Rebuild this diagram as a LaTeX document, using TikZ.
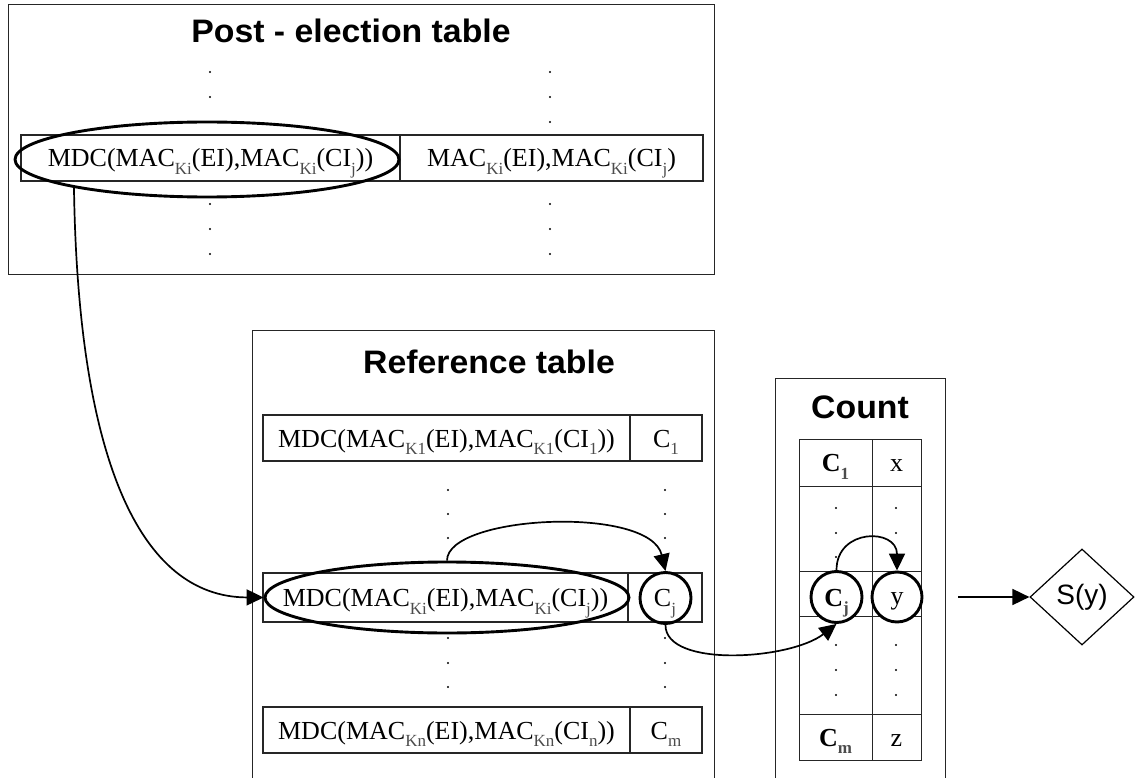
\documentclass[tikz,border=0pt]{standalone}
\usepackage{fontspec}
\setmainfont{Liberation Serif}
\setsansfont{Liberation Sans}
\newfontfamily\titlefont[FakeStretch=1.04]{Liberation Sans}
\usetikzlibrary{shapes.geometric,arrows.meta}
\newcommand\sbs[1]{\raisebox{-0.3em}{\fontsize{17}{17}\selectfont\color{black!70}#1}}
\tikzset{
  frame/.style={draw=black!85,line width=1pt,inner sep=0pt},
  cell/.style={draw=black!85,line width=1.1pt,inner sep=0pt,font=\fontsize{26}{30}\selectfont,
               text height=18pt,text depth=0pt},
  hl/.style={draw=black,line width=2.9pt,inner sep=0pt},
  ttl/.style={font=\titlefont\fontsize{32.5}{38}\selectfont\bfseries,anchor=base},
  arr/.style={line width=1.7pt,-{Triangle[length=17pt,width=16pt]}},
  dot/.style={fill=black}
}
\begin{document}
\begin{tikzpicture}[x=1pt,y=-1pt]
\useasboundingbox (0,0) rectangle (1135,778);
\fill[white] (0,0) rectangle (1135,778);

% ---------- Post-election table ----------
\node[frame,minimum width=706,minimum height=269] (post) at (361,139.5) {};
\node[ttl] (posttitle) at (351,43) {Post - election table};
\node[cell,minimum width=379,minimum height=46] (pl) at (210.5,158)
  {MDC(MAC\sbs{Ki}(EI),MAC\sbs{Ki}(CI\sbs{j}))};
\node[cell,minimum width=303,minimum height=46] (pr) at (551.5,158)
  {MAC\sbs{Ki}(EI),MAC\sbs{Ki}(CI\sbs{j})};
\node[hl,ellipse,minimum width=384,minimum height=75] (pe) at (207,159.5) {};
\foreach \y in {72,97,204,229,254} \fill[dot] (210,\y) circle (1.1);
\foreach \y in {72,97,122,204,229,254} \fill[dot] (550,\y) circle (1.1);

% ---------- Reference table ----------
\node[frame,minimum width=462,minimum height=470] (ref) at (483,565) {};
\node[ttl] (reftitle) at (489,373) {Reference table};
\node[cell,minimum width=367,minimum height=46] (r1l) at (446.5,438)
  {MDC(MAC\sbs{K1}(EI),MAC\sbs{K1}(CI\sbs{1}))};
\node[cell,minimum width=72,minimum height=46] (r1r) at (666,438) {C\sbs{1}};
\node[cell,minimum width=74,minimum height=49] (rjr) at (665,597.5) {C\sbs{j}};
\node[cell,line width=1.6pt,minimum width=365,minimum height=49] (rjl) at (445.5,597.5)
  {MDC(MAC\sbs{Ki}(EI),MAC\sbs{Ki}(CI\sbs{j}))};
\node[cell,minimum width=367,minimum height=46] (rnl) at (446.5,730)
  {MDC(MAC\sbs{Kn}(EI),MAC\sbs{Kn}(CI\sbs{n}))};
\node[cell,minimum width=72,minimum height=46] (rnr) at (666,730) {C\sbs{m}};
\node[hl,ellipse,minimum width=364,minimum height=71] (re) at (447,597.5) {};
\node[hl,circle,minimum size=51] (rc) at (665.5,598) {};
\foreach \y in {490,514,538,638,663,687} {
  \fill[dot] (448,\y) circle (1.1);
  \fill[dot] (665,\y) circle (1.1);
}

% ---------- Count ----------
\node[frame,minimum width=170,minimum height=422] (cnt) at (860,589) {};
\node[ttl] (cnttitle) at (860,418) {Count};
\node[cell,line width=1pt,minimum width=73,minimum height=47] (c1l) at (835.5,462.5) {\bfseries C\sbs{1}};
\node[cell,line width=1pt,minimum width=49,minimum height=47] (c1r) at (896.5,462.5) {x};
\node[cell,line width=1pt,minimum width=73,minimum height=85] (cd1l) at (835.5,528.5) {};
\node[cell,line width=1pt,minimum width=49,minimum height=85] (cd1r) at (896.5,528.5) {};
\node[cell,line width=1pt,minimum width=73,minimum height=45] (cjl) at (835.5,593.5) {};
\node[cell,line width=1pt,minimum width=49,minimum height=45] (cjr) at (896.5,593.5) {};
\node[cell,line width=1pt,minimum width=73,minimum height=98] (cd2l) at (835.5,665) {};
\node[cell,line width=1pt,minimum width=49,minimum height=98] (cd2r) at (896.5,665) {};
\node[cell,line width=1pt,minimum width=73,minimum height=46] (cml) at (835.5,737) {\bfseries C\sbs{m}};
\node[cell,line width=1pt,minimum width=49,minimum height=46] (cmr) at (896.5,737) {z};
\node[hl,circle,fill=white,minimum size=51,font=\fontsize{26}{30}\selectfont\bfseries,
      text height=18pt,text depth=0pt] (ccj) at (836.5,597) {C\sbs{j}};
\node[hl,circle,fill=white,minimum size=50,font=\fontsize{26}{30}\selectfont,
      text height=14pt,text depth=0pt] (cy) at (897,597) {y};
\foreach \y in {508,533,557,645,670,695} \fill[dot] (836,\y) circle (1.1);
\foreach \y in {508,533,645,670,695} \fill[dot] (896,\y) circle (1.1);

% ---------- S(y) ----------
\coordinate (ss) at (958,597);
\node[diamond,draw=black,line width=1.2pt,inner sep=0pt,minimum width=104,minimum height=96,
      font=\sffamily\fontsize{28}{32}\selectfont] (sy) at (1082,597) {S(y)};

% ---------- connectors ----------
\draw[arr] (pe.192) .. controls (78,460) and (140,597) .. (re.west);
\draw[arr] (re.north) .. controls (447,515) and (650,505) .. (rc.north);
\draw[arr] (rc.south) .. controls (665,668) and (790,660) .. (ccj.south);
\draw[arr] (ccj.north) .. controls (836.5,528) and (897,528) .. (cy.north);
\draw[arr] (ss) -- (sy.west);
\end{tikzpicture}
\end{document}
